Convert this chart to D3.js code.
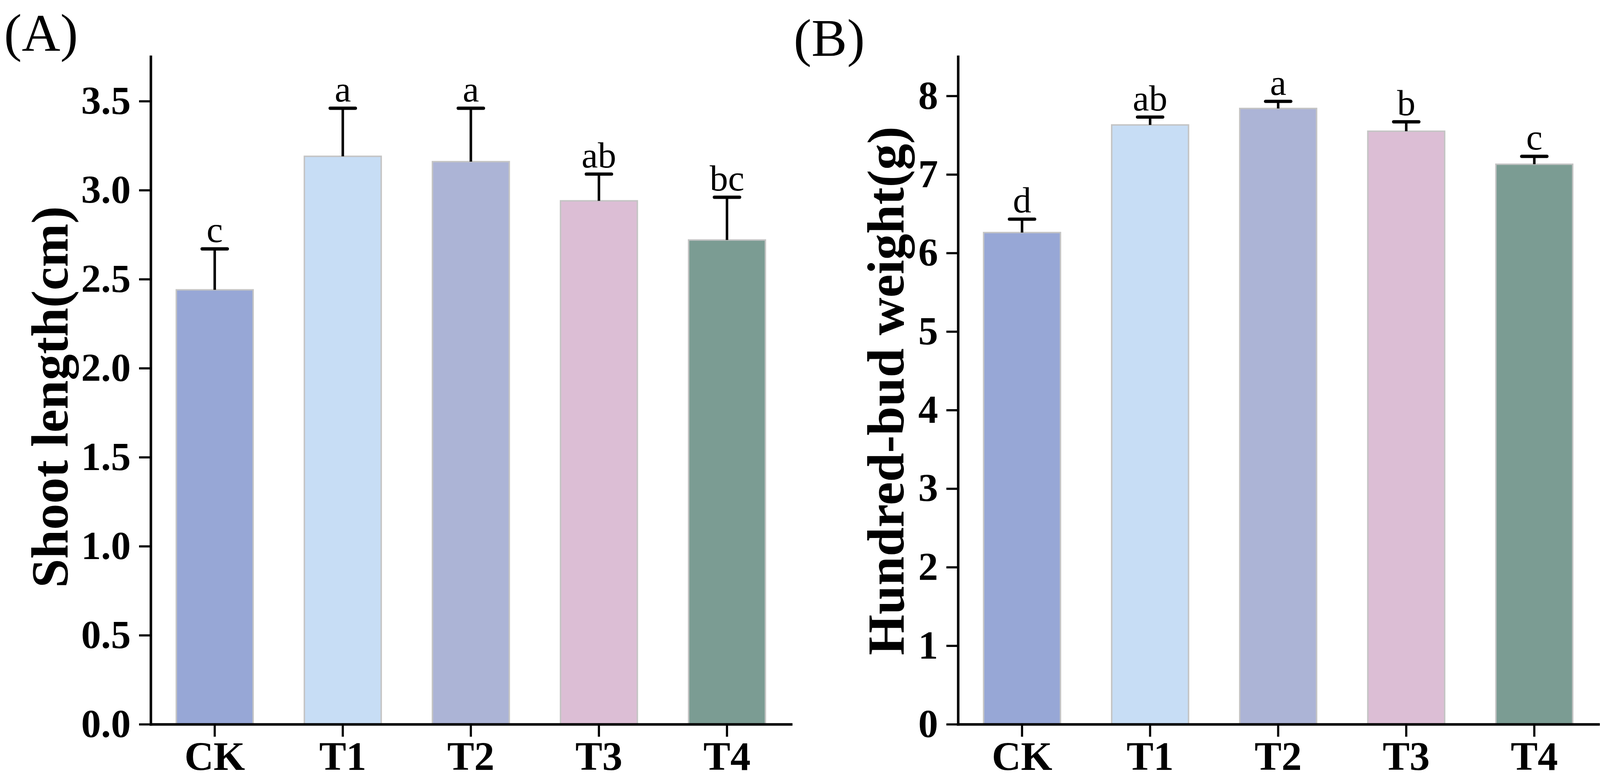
<!DOCTYPE html>
<html>
<head>
<meta charset="utf-8">
<script src="https://cdn.jsdelivr.net/npm/d3@7"></script>
<style>
  html, body { margin: 0; padding: 0; background: #fff; overflow: hidden; }
  svg { display: block; }
  text { font-family: "Liberation Serif", "Times New Roman", serif; }
</style>
</head>
<body>
<div id="chart"></div>
<script>
"use strict";

// Design size of the figure; layout is stretched to the real window
const w = 4810;
const h = 2003;
const vw = window.innerWidth || w;
const vh = window.innerHeight || h;
const sx = vw / w;
const sy = vh / h;
const fs = Math.sqrt(sx * sy); // font / stroke scale
const X = v => v * sx;
const Y = v => v * sy;

// Treatments
const categories = ["CK", "T1", "T2", "T3", "T4"];
const barColors = ["#97a7d6", "#c7ddf5", "#acb4d6", "#dcbed5", "#7b9c93"];

// (A) Shoot length
const shootMean = [2.44, 3.19, 3.16, 2.94, 2.72];
const shootErr = [0.23, 0.27, 0.30, 0.15, 0.24];
const shootLetters = ["c", "a", "a", "ab", "bc"];
const shootTicks = [0, 0.5, 1.0, 1.5, 2.0, 2.5, 3.0, 3.5];

// (B) Hundred-bud weight
const budMean = [6.26, 7.63, 7.84, 7.55, 7.13];
const budErr = [0.17, 0.10, 0.09, 0.12, 0.10];
const budLetters = ["d", "ab", "a", "b", "c"];
const budTicks = [0, 1, 2, 3, 4, 5, 6, 7, 8];

const svg = d3.select("#chart")
	.append("svg")
	.attr("width", vw)
	.attr("height", vh);

svg.append("rect")
	.attr("width", vw)
	.attr("height", vh)
	.attr("fill", "#fff");

function drawPanel(p) {
	const x = d3.scaleBand()
		.domain(categories)
		.range([X(p.left), X(p.right)])
		.paddingInner(0.4)
		.paddingOuter(0.2);

	const y = d3.scaleLinear()
		.domain([0, p.yMax])
		.range([Y(1855), Y(145)]);

	const g = svg.append("g");

	// Bars
	g.selectAll(".bar")
		.data(p.means)
		.enter()
		.append("rect")
		.attr("x", (d, i) => x(categories[i]))
		.attr("width", x.bandwidth())
		.attr("y", d => y(d))
		.attr("height", d => y(0) - y(d))
		.attr("fill", (d, i) => barColors[i])
		.attr("stroke", "#c4c4c4")
		.attr("stroke-width", 4 * fs);

	// Error bars (upper half only)
	const cx = i => x(categories[i]) + x.bandwidth() / 2;
	g.selectAll(".err")
		.data(p.means)
		.enter()
		.append("line")
		.attr("x1", (d, i) => cx(i))
		.attr("x2", (d, i) => cx(i))
		.attr("y1", d => y(d))
		.attr("y2", (d, i) => y(d + p.errs[i]))
		.attr("stroke", "#000")
		.attr("stroke-width", 7 * fs);

	g.selectAll(".cap")
		.data(p.means)
		.enter()
		.append("line")
		.attr("x1", (d, i) => cx(i) - X(38))
		.attr("x2", (d, i) => cx(i) + X(38))
		.attr("y1", (d, i) => y(d + p.errs[i]))
		.attr("y2", (d, i) => y(d + p.errs[i]))
		.attr("stroke", "#000")
		.attr("stroke-width", 9 * fs)
		.attr("stroke-linecap", "round");

	// Significance letters
	g.selectAll(".letter")
		.data(p.letters)
		.enter()
		.append("text")
		.attr("x", (d, i) => cx(i))
		.attr("y", (d, i) => y(p.means[i] + p.errs[i]) - Y(17))
		.attr("text-anchor", "middle")
		.style("font-size", (102 * fs) + "px")
		.text(d => d);

	// Y axis
	const yAxis = g.append("g")
		.attr("transform", "translate(" + X(p.left) + ",0)")
		.call(d3.axisLeft(y)
			.tickValues(p.ticks)
			.tickFormat(d3.format(p.fmt))
			.tickSize(X(35))
			.tickPadding(X(25))
			.tickSizeOuter(0));

	// X axis
	const xAxis = g.append("g")
		.attr("transform", "translate(0," + Y(1855) + ")")
		.call(d3.axisBottom(x)
			.tickSize(Y(32))
			.tickPadding(Y(12))
			.tickSizeOuter(0));

	[yAxis, xAxis].forEach(a => {
		a.select(".domain")
			.attr("stroke", "#000")
			.attr("stroke-width", 7 * fs)
			.attr("stroke-linecap", "square");
		a.selectAll(".tick line")
			.attr("stroke", "#000")
			.attr("stroke-width", 6 * fs);
		a.selectAll(".tick text")
			.attr("fill", "#000")
			.style("font-family", "'Liberation Serif', 'Times New Roman', serif")
			.style("font-weight", "bold");
	});
	yAxis.selectAll(".tick text").style("font-size", (110 * fs) + "px");
	xAxis.selectAll(".tick text").style("font-size", (112 * fs) + "px");

	// Axis title
	g.append("text")
		.attr("transform", "translate(" + X(p.labelX) + "," + Y(p.labelY) + ") rotate(-90)")
		.attr("text-anchor", "middle")
		.style("font-size", (145 * fs) + "px")
		.style("font-weight", "bold")
		.text(p.label);

	// Panel tag
	g.append("text")
		.attr("x", X(p.tagX))
		.attr("y", Y(p.tagY))
		.style("font-size", (148 * fs) + "px")
		.text(p.tag);
}

drawPanel({
	left: 453, right: 2378, yMax: 3.75,
	means: shootMean, errs: shootErr, letters: shootLetters,
	ticks: shootTicks, fmt: ".1f",
	label: "Shoot length(cm)", labelX: 203, labelY: 1017,
	tag: "(A)", tagX: 12, tagY: 130
});

drawPanel({
	left: 2880, right: 4805, yMax: 8.5,
	means: budMean, errs: budErr, letters: budLetters,
	ticks: budTicks, fmt: "d",
	label: "Hundred-bud weight(g)", labelX: 2716, labelY: 1001,
	tag: "(B)", tagX: 2386, tagY: 143
});
</script>
</body>
</html>
